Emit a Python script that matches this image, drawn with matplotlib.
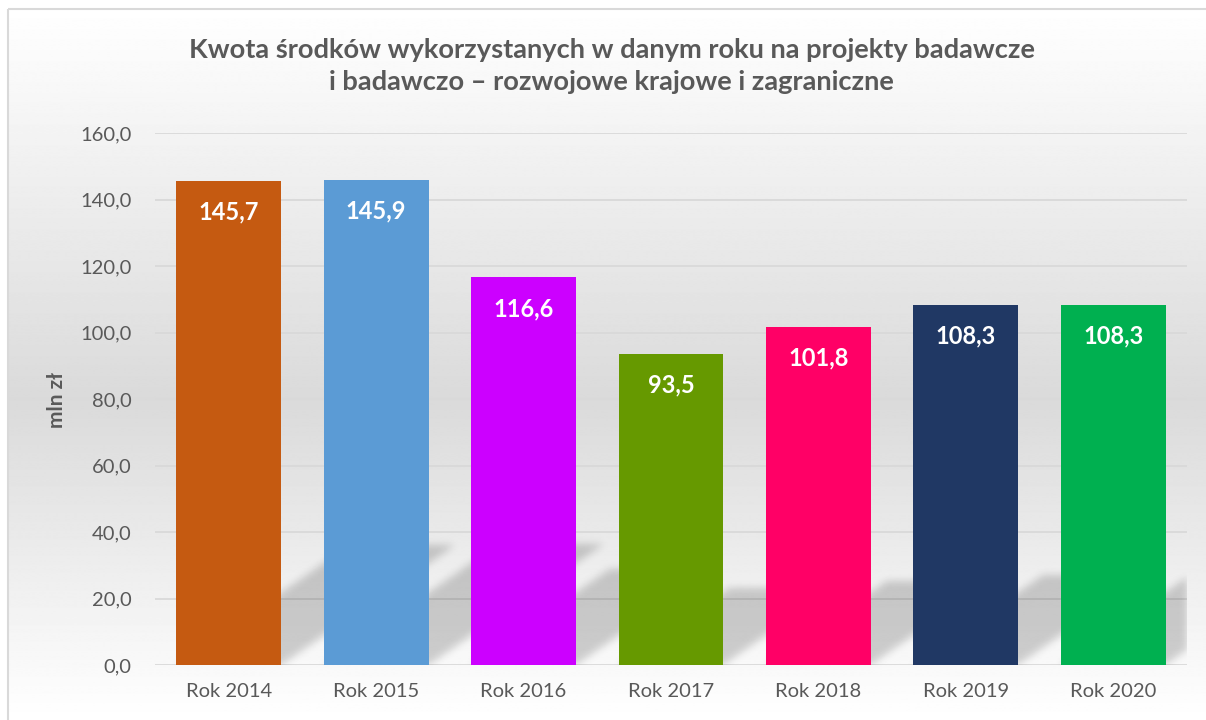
import numpy as np
import matplotlib.pyplot as plt
from matplotlib.patches import Rectangle
from matplotlib.ticker import FuncFormatter

# dane z wykresu
lata = ["Rok 2014", "Rok 2015", "Rok 2016", "Rok 2017", "Rok 2018", "Rok 2019", "Rok 2020"]
kwoty = [145.7, 145.9, 116.6, 93.5, 101.8, 108.3, 108.3]
kolory = ["#C55A11", "#5B9BD5", "#CC00FF", "#669900", "#FF0066", "#203864", "#00B050"]
tytul = ("Kwota środków wykorzystanych w danym roku na projekty badawcze\n"
         "i badawczo – rozwojowe krajowe i zagraniczne")
os_y = "mln zł"

plt.rcParams['font.family'] = ['Lato', 'DejaVu Sans']

W, H = 1206, 720
fig = plt.figure(figsize=(W / 100, H / 100), dpi=100)

# --- tło z gradientem i ramką ---
tlo = fig.add_axes([0, 0, 1, 1], zorder=-10)
t = np.linspace(0, 1, H)
szary = np.where(t < 0.55, 255 - 37 * t / 0.55, 218 + 37 * (t - 0.55) / 0.45) / 255
grad = np.repeat(szary[:, None], 2, axis=1)
tlo.imshow(grad, cmap='gray', vmin=0, vmax=1, extent=(7, W, H, 8),
           aspect='auto', interpolation='bilinear')
tlo.set_xlim(0, W)
tlo.set_ylim(H, 0)
tlo.axis('off')
tlo.add_patch(Rectangle((7.5, 8.5), W, H, fill=False, edgecolor='#d9d9d9', lw=1.5))

# --- główny wykres ---
ax = fig.add_axes([155 / W, 55 / H, 1032 / W, 532 / H])
ax.patch.set_alpha(0)
x = np.arange(len(lata))
szer = 0.712

# cień perspektywiczny słupków (jak w Excelu)
nx, ny = 1032, 532
xs = np.linspace(-0.5, len(lata) - 0.5, nx)
ys = np.linspace(0, 160, ny)
X, Y = np.meshgrid(xs, ys)
k = 1.45 * (ny / 160) / (nx / len(lata))
maska = np.zeros_like(X)
for xi, v in zip(x, kwoty):
    lewa = xi - szer / 2 + k * Y
    m = (Y <= 0.248 * v) & (X >= lewa) & (X <= lewa + szer)
    maska = np.maximum(maska, m.astype(float))
r = np.arange(-12, 13)
g = np.exp(-r ** 2 / (2 * 4.0 ** 2))
g /= g.sum()
maska = np.apply_along_axis(lambda a: np.convolve(a, g, mode='same'), 1, maska)
maska = np.apply_along_axis(lambda a: np.convolve(a, g, mode='same'), 0, maska)
cien = np.zeros((ny, nx, 4))
cien[..., 3] = 0.18 * maska
ax.imshow(cien, extent=(-0.5, len(lata) - 0.5, 0, 160), origin='lower',
          aspect='auto', zorder=1, interpolation='bilinear')

ax.bar(x, kwoty, width=szer, color=kolory, zorder=2)
for xi, v in zip(x, kwoty):
    ax.annotate(f"{v:.1f}".replace('.', ','), (xi, v), xytext=(0, -22.5),
                textcoords='offset points', ha='center', va='center',
                color='white', fontsize=17, fontweight='bold', zorder=3)

ax.set_xlim(-0.5, len(lata) - 0.5)
ax.set_ylim(0, 160)
ax.set_yticks(np.arange(0, 161, 20))
ax.yaxis.set_major_formatter(FuncFormatter(lambda v, p: f"{v:.1f}".replace('.', ',')))
ax.set_xticks(x)
ax.set_xticklabels(lata)
ax.set_axisbelow(True)
ax.grid(axis='y', color='#d9d9d9', lw=1.3)
for s in ax.spines.values():
    s.set_visible(False)
ax.tick_params(axis='both', length=0, labelsize=14.5, labelcolor='#595959')
ax.tick_params(axis='y', pad=17)
ax.tick_params(axis='x', pad=13)

fig.text(57 / W, 1 - 400 / H, os_y, rotation=90, ha='center', va='center',
         fontsize=15, fontweight='bold', color='#595959')
fig.text(611.5 / W, 1 - 66 / H, tytul, ha='center', va='center', fontsize=19.6,
         fontweight='bold', color='#595959', linespacing=1.4)

fig.savefig("out.png", dpi=100)
